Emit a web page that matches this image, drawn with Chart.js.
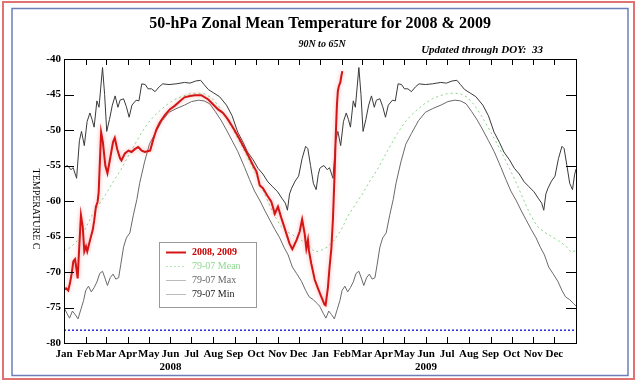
<!DOCTYPE html>
<html>
<head>
<meta charset="utf-8">
<script src="https://cdn.jsdelivr.net/npm/chart.js@4"></script>
<style>
  html, body { margin: 0; padding: 0; background: #fff; }
  canvas { display: block; }
</style>
</head>
<body>
<canvas id="chart" width="640" height="384"></canvas>
<script>
const months = ["Jan", "Feb", "Mar", "Apr", "May", "Jun", "Jul", "Aug", "Sep", "Oct", "Nov", "Dec"];
const years = ["2008", "2009"];
// day index of each month start, Jan 2008 .. end of 2009
const monthStarts = [0, 31, 60, 91, 121, 152, 182, 213, 244, 274, 305, 335,
  366, 397, 425, 456, 486, 517, 547, 578, 609, 639, 670, 700, 731];
const yearOffsets = [0, 366];

// 2008, 2009 observed (days since 1 Jan 2008)
const obsDays = [0, 3, 6, 8.5, 11, 13.3, 15.7, 18, 19.5, 21.8, 24.2, 26.7, 29, 31.4, 33.2, 36, 38.5, 41, 43.2, 45.6,
  48, 49.5, 51, 53, 55.5, 59, 62, 65, 70, 72.5, 76, 80, 82, 87, 92, 96.5, 101, 106, 111, 115.5,
  119, 123, 127.5, 132, 137, 144, 151, 158, 165, 172, 180, 187, 196, 206, 213, 220, 227, 234, 241, 248,
  256, 263, 270, 275, 279.5, 284, 290, 296, 301, 305.5, 310, 314, 317.5, 322, 326, 332, 336.5, 340, 343.6, 346,
  348.3, 349.7, 353, 358, 362.6, 367.4, 372, 373.5, 376.8, 379, 381.7, 384, 386.4, 387.8, 389.6, 391, 392.5, 394.5, 396, 397.4];
const obsTemp = [-72.5, -72.3, -72.6, -71.6, -70.2, -68.5, -68.2, -69.7, -70.9, -66.4, -62, -63.6, -67.1, -66.4, -67.1, -66, -65, -64.1, -62.7, -60.8,
  -60.1, -58.8, -55, -50.3, -51.7, -55, -56.1, -54.5, -51.7, -51.1, -52.7, -54, -54.3, -53.3, -52.9, -53.1, -52.7, -52.4, -52.9, -53.1,
  -53, -52.9, -51.3, -49.9, -48.9, -47.9, -47.1, -46.6, -46, -45.4, -45.2, -45.1, -45.1, -45.7, -46.4, -47.1, -47.6, -48.5, -49.6, -50.8,
  -52.3, -53.6, -55, -55.9, -57.8, -58.2, -59.2, -60.1, -61.8, -60.8, -62.3, -63.5, -64.6, -66, -66.8, -65.5, -64.3, -62.6, -64.6, -66.7,
  -65.5, -67, -68.8, -71.1, -72.3, -73.5, -74.6, -74.7, -72.2, -69.5, -66.7, -62.5, -56, -51.3, -46.6, -44.5, -43.8, -43.3, -42.4, -41.7];

// 1979-2007 climatology (day of year)
const meanDays = [0, 10, 20, 30, 40, 50, 60, 70, 80, 90, 100, 110, 120, 130, 140, 150, 160, 170, 180, 190,
  200, 210, 220, 230, 240, 250, 260, 270, 280, 290, 300, 310, 320, 330, 340, 350, 358, 365];
const meanTemp = [-67, -66.5, -65.5, -64, -62, -60.5, -59, -57.3, -55.8, -54, -52.2, -50.5, -49, -47.9, -47, -46.2, -45.6, -45.2, -44.9, -44.8,
  -44.9, -45.4, -46.5, -48, -49.7, -51.5, -53.4, -55.4, -57.5, -59.8, -62, -63.6, -64.4, -65, -65.6, -66.3, -67.2, -67];

const maxDays = [0, 5, 10, 13, 18, 22, 25, 29, 33, 37, 40, 43, 47, 50, 55, 58, 61, 65, 69, 73,
  77, 80, 85, 89, 93, 97, 103, 107, 111, 116, 120, 125, 130, 136, 141, 150, 160, 172, 180, 188,
  195, 200, 206, 214, 222, 232, 240, 248, 256, 262, 270, 277, 284, 291, 298, 305, 311, 316, 319, 322,
  325, 330, 335, 340, 345, 348, 352, 356, 360, 363, 365];
const maxTemp = [-55.3, -55.0, -55.6, -55.3, -56.8, -51.5, -50.2, -52.2, -48.8, -47.6, -48.5, -49.6, -45.9, -46.8, -41.2, -45, -50.2, -48.5, -46.5, -45.2,
  -46.8, -45.8, -45.6, -46.7, -48.2, -46.5, -45.8, -45.9, -43.5, -43.6, -44.2, -44.2, -44.6, -43.9, -43.5, -43.6, -43.5, -43.3, -43.4, -43.1,
  -43.0, -43.6, -44.3, -44.8, -45.3, -46.5, -48, -50.3, -51.8, -53.1, -54.2, -55.4, -56.2, -57.3, -58.0, -58.7, -59.6, -60.3, -61.3, -59,
  -58.2, -57.2, -56.5, -54, -52.3, -52.6, -55, -57.5, -58.4, -56.3, -55.5];

const minDays = [0, 4, 8, 12, 16, 20, 24, 28, 31, 35, 39, 43, 47, 51, 55, 59, 62, 66, 70, 74,
  78, 81, 85, 89, 94, 99, 104, 108, 115, 122, 130, 140, 150, 160, 172, 182, 192, 200, 208, 216,
  224, 232, 240, 248, 258, 265, 272, 280, 287, 294, 301, 308, 314, 320, 326, 332, 339, 345, 350, 356, 361, 365];
const minTemp = [-75, -75.8, -76.5, -75.5, -76, -76.6, -75.3, -74, -72.6, -72, -72.8, -72.2, -71.4, -70.2, -69.9, -71, -71.9, -70.8, -70.3, -71,
  -70.8, -69, -66.5, -65.2, -64.5, -62, -59.8, -57.5, -54.5, -52, -50.5, -48.7, -47.5, -47, -46.5, -46, -45.8, -45.9, -46.3, -47.4,
  -48.6, -50, -51.5, -53, -55.3, -57, -58.6, -60, -61.4, -62.7, -64, -65.2, -66.5, -67.6, -69.3, -70.2, -71.3, -72.6, -73.5, -73.9, -74.4, -74.8];

const pscTemp = [-78.2];
const legendLabels = ["2008, 2009", "79-07 Mean", "79-07 Max", "79-07 Min"];

const SERIF = "'Liberation Serif', 'DejaVu Serif', serif";

function points(days, vals, offset = 0) {
  return days.map((d, i) => ({ x: d + offset, y: vals[i] }));
}

function bothYears(days, vals) {
  return yearOffsets.flatMap((off) => points(days, vals, off));
}

const styles = [
  { color: "#d41515", width: 2, dash: [] },
  { color: "#86d686", width: 1, dash: [2, 3] },
  { color: "#3a3a3a", width: 1, dash: [] },
  { color: "#6a6a6a", width: 1, dash: [] },
];
const legendText = ["#c80000", "#8fd88f", "#666", "#222"];

const decor = {
  id: "decor",
  beforeDraw(chart) {
    const ctx = chart.ctx;
    ctx.save();
    ctx.fillStyle = "#fff";
    ctx.fillRect(0, 0, chart.width, chart.height);
    ctx.restore();
  },
  beforeDatasetDraw(chart, args) {
    if (args.index === 0) {
      chart.ctx.save();
      chart.ctx.shadowColor = "rgba(240, 120, 120, 0.6)";
      chart.ctx.shadowBlur = 4;
    }
  },
  afterDatasetDraw(chart, args) {
    if (args.index === 0) chart.ctx.restore();
  },
  afterDraw(chart) {
    const { ctx, chartArea: a, scales } = chart;
    const x = scales.x, y = scales.y;
    ctx.save();
    ctx.strokeStyle = "#000";
    ctx.lineWidth = 1;
    ctx.strokeRect(a.left + 0.5, a.top + 0.5, a.width, a.height);
    ctx.beginPath();
    x.ticks.forEach((t) => {
      const px = Math.round(x.getPixelForValue(t.value)) + 0.5;
      ctx.moveTo(px, a.bottom); ctx.lineTo(px, a.bottom - 6);
      ctx.moveTo(px, a.top); ctx.lineTo(px, a.top + 6);
    });
    y.ticks.forEach((t) => {
      const py = Math.round(y.getPixelForValue(t.value)) + 0.5;
      ctx.moveTo(a.left, py); ctx.lineTo(a.left + 10, py);
      ctx.moveTo(a.right, py); ctx.lineTo(a.right - 10, py);
    });
    ctx.stroke();

    // titles
    ctx.fillStyle = "#000";
    ctx.textBaseline = "middle";
    ctx.textAlign = "center";
    ctx.font = "bold 16px " + SERIF;
    ctx.fillText("50-hPa Zonal Mean Temperature for 2008 & 2009", 320, 24);
    ctx.font = "italic bold 10px " + SERIF;
    ctx.fillText("90N to 65N", 322, 44);
    ctx.textAlign = "right";
    ctx.font = "italic bold 11px " + SERIF;
    ctx.fillText("Updated through DOY:  33", 543, 50);

    // y axis title, reading downward
    ctx.save();
    ctx.translate(36, 209);
    ctx.rotate(Math.PI / 2);
    ctx.textAlign = "center";
    ctx.font = "10px " + SERIF;
    ctx.fillText("TEMPERATURE C", 0, 0);
    ctx.restore();

    // legend box
    const lx = a.left + 95, ly = a.top + 183;
    ctx.fillStyle = "#fff";
    ctx.fillRect(lx, ly, 97, 65);
    ctx.strokeStyle = "#999";
    ctx.strokeRect(lx + 0.5, ly + 0.5, 97, 65);
    ctx.textAlign = "left";
    legendLabels.forEach((lab, i) => {
      const ry = ly + 10 + i * 14;
      const s = styles[i];
      ctx.beginPath();
      ctx.strokeStyle = i === 0 ? s.color : (i === 1 ? "#b8e8b8" : "#bbb");
      ctx.lineWidth = i === 0 ? 2 : 1;
      ctx.setLineDash(i === 1 ? [2, 2] : []);
      ctx.moveTo(lx + 7, ry + 0.5); ctx.lineTo(lx + 27, ry + 0.5);
      ctx.stroke();
      ctx.setLineDash([]);
      ctx.fillStyle = legendText[i];
      ctx.font = (i === 0 ? "bold " : "") + "10px " + SERIF;
      ctx.fillText(lab, lx + 33, ry);
    });

    // outer frames
    ctx.lineWidth = 2;
    ctx.strokeStyle = "#e07272";
    ctx.strokeRect(3, 2, 631, 377);
    ctx.lineWidth = 1.5;
    ctx.strokeStyle = "#6c7fb8";
    ctx.strokeRect(12, 8.5, 616, 367);
    ctx.restore();
  },
};

new Chart(document.getElementById("chart").getContext("2d"), {
  type: "line",
  data: {
    datasets: [
      { label: legendLabels[0], data: points(obsDays, obsTemp) },
      { label: legendLabels[1], data: bothYears(meanDays, meanTemp) },
      { label: legendLabels[2], data: bothYears(maxDays, maxTemp) },
      { label: legendLabels[3], data: bothYears(minDays, minTemp) },
      { label: "PSC", data: [{ x: 0, y: pscTemp[0] }, { x: 731, y: pscTemp[0] }],
        borderColor: "#2b2bd0", borderWidth: 1.5, borderDash: [2, 2] },
    ].map((ds, i) => Object.assign({
      borderColor: styles[i] && styles[i].color,
      borderWidth: styles[i] && styles[i].width,
      borderDash: styles[i] && styles[i].dash,
      pointRadius: 0,
      tension: 0,
      fill: false,
    }, ds)),
  },
  options: {
    responsive: false,
    devicePixelRatio: 1,
    animation: false,
    layout: { padding: { top: 59, left: 10, right: 64, bottom: 0 } },
    plugins: { legend: { display: false }, tooltip: { enabled: false } },
    scales: {
      x: {
        type: "linear",
        min: 0,
        max: 731,
        grid: { drawOnChartArea: false, drawTicks: false },
        border: { display: false },
        afterBuildTicks: (scale) => { scale.ticks = monthStarts.map((v) => ({ value: v })); },
        afterFit: (scale) => { scale.height = 41; },
        ticks: {
          autoSkip: false,
          maxRotation: 0,
          padding: 5,
          color: "#000",
          font: { family: SERIF, size: 11, weight: "bold", lineHeight: 1.15 },
          callback: (v, i) => {
            if (i >= 24) return "";
            const m = months[i % 12];
            return i % 12 === 5 ? [m, years[Math.floor(i / 12)]] : m;
          },
        },
      },
      y: {
        min: -80,
        max: -40,
        grid: { drawOnChartArea: false, drawTicks: false },
        border: { display: false },
        afterFit: (scale) => { scale.width = 54; },
        ticks: {
          stepSize: 5,
          padding: 3,
          color: "#000",
          font: { family: SERIF, size: 11, weight: "bold" },
        },
      },
    },
  },
  plugins: [decor],
});
</script>
</body>
</html>
